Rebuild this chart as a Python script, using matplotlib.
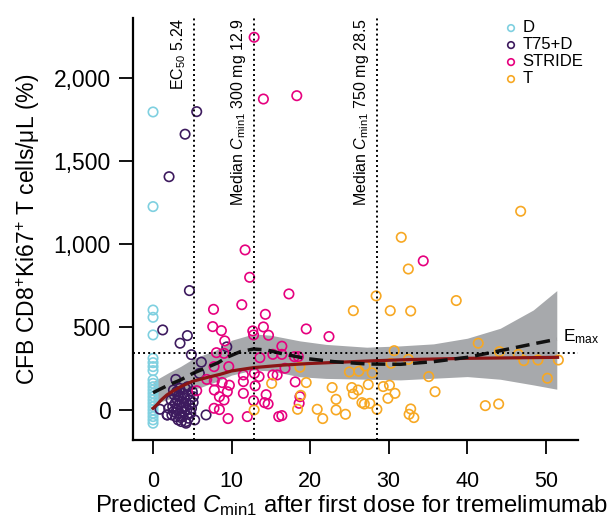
import matplotlib
matplotlib.use("Agg")
import matplotlib.pyplot as plt
import matplotlib.transforms as mtransforms

plt.rcParams['font.family'] = ['Liberation Sans', 'DejaVu Sans']
plt.rcParams['mathtext.fontset'] = 'custom'
plt.rcParams['mathtext.rm'] = 'Liberation Sans'
plt.rcParams['mathtext.it'] = 'Liberation Sans:italic'

# --- data ---
d_y = [1795, 1225, 602, 558, 452, 311, 285, 261, 237, 181, 160, 140, 120, 100,
       80, 60, 40, 20, 0, -20, -40, -60, -80]
d_x = [0] * len(d_y)

t75d_x = [5.56, 4.08, 2.04, 4.63, 1.23, 4.37, 3.44, 4.88, 9.39, 6.15, 5.9, 2.9,
          0.89, 1.82, 6.75, 5.14, 4.2,
          2.3, 2.5, 2.6, 2.7, 2.8, 2.9, 3.0, 3.0, 3.1, 3.2, 3.3, 3.4, 3.4, 3.5,
          3.6, 3.6, 3.7, 3.8, 3.8, 3.9, 4.0, 4.0, 4.1, 4.2, 4.2, 4.3, 4.4, 4.5,
          4.6, 4.7, 4.8, 4.9, 5.0, 5.1, 2.4, 2.0, 3.5, 4.4, 3.2, 2.6, 5.3, 1.8]
t75d_y = [1797, 1661, 1405, 719, 482, 448, 402, 333, 380, 288, 220, 184,
          4, -30, -30, 80, -70,
          60, 20, -10, 90, 40, -40, 110, 0, 60, -60, 30, 130, -20, 80,
          10, -70, 50, 100, -40, 20, 70, -10, 130, 40, -80, 0, 90, -50,
          30, 60, -20, 10, 110, 45, -30, 10, -45, 140, 85, 120, -60, -30]

stride_x = [12.87, 14.05, 18.3, 11.72, 34.4, 12.3, 17.3, 7.7, 11.3, 14.3, 7.6,
            8.7, 12.7, 14.05, 14.7, 19.5, 9.13, 12.8, 8.07, 9.04, 7.77, 9.64,
            13.6, 15.25, 16.4, 16.4, 18.0, 18.5, 16.8, 6.84, 8.8, 9.72, 11.5,
            11.5, 12.9, 13.5, 13.0, 15.25, 15.8, 18.1, 9.46, 11.5, 14.4, 8.45,
            9.04, 12.8, 14.2, 14.65, 18.6, 7.77, 8.45, 9.55, 12.0, 16.0, 16.4,
            22.4, 5.56, 7.8, 7.8, 18.7]
stride_y = [2245, 1873, 1893, 964, 898, 799, 699, 606, 634, 576, 502,
            478, 476, 500, 450, 488, 416, 452, 345, 341, 261, 261,
            315, 335, 384, 335, 321, 321, 251, 184, 165, 149, 211,
            171, 221, 201, 145, 211, 211, 169, 110, 100, 92, 80,
            60, 56, 44, 36, 40, 10, 2, -52, -40, -40, -34,
            442, 116, 175, 120, 80]

t_x = [46.8, 31.6, 32.5, 38.6, 32.8, 41.4, 44.1, 46.5, 32.5, 47.2, 49.0, 51.6,
       35.1, 50.2, 35.9, 32.8, 32.6, 33.2, 42.3, 44.0, 28.4, 25.5, 30.2, 30.7,
       30.3, 27.0, 25.0, 26.2, 27.9, 18.7, 19.5, 15.1, 18.8, 12.87, 18.4, 22.8,
       25.3, 27.4, 29.3, 30.1, 30.8, 23.3, 25.5, 26.1, 29.9, 26.6, 26.9, 27.6,
       28.5, 20.9, 23.3, 24.5, 21.6]
t_y = [1197, 1040, 849, 659, 596, 402, 351, 335, 305, 297, 301, 301,
       201, 191, 110, 6, -26, -46, 26, 36, 687, 598, 598, 357,
       281, 265, 229, 233, 223, 257, 165, 160, 88, 0, 4, 135,
       135, 153, 141, 149, 100, 64, 96, 120, 70, 44, 36, 40,
       4, 4, 0, -26, -52]

# Emax model curve (solid red), read at points
emax_x = [0, 0.5, 1, 1.75, 2.5, 3.5, 5, 7, 8.5, 10, 12.8, 16.5, 20, 24, 28, 33,
          40, 46, 51.5]
emax_y = [10, 32, 58, 90, 113, 140, 172, 197, 214, 235, 255, 270, 280, 288,
          296, 304, 311, 314, 317]

# smoother (dashed) and its band
sm_x = [0, 1.75, 3.5, 5.1, 6.8, 8.3, 9.4, 11.1, 12.8, 14.5, 16.6, 19.6, 23,
        27.2, 31.5, 35.7, 40, 44.2, 48.4, 51.4]
sm_y = [104, 145, 181, 221, 255, 285, 317, 351, 367, 361, 337, 309, 291, 277,
        275, 291, 317, 357, 398, 426]
band_x = [0, 2, 3.5, 5, 6, 8, 10, 12.8, 15, 18.7, 22, 27.2, 31.5, 35.7, 40,
          44.2, 48.4, 51.4]
band_hi = [171, 225, 262, 305, 325, 360, 420, 458, 450, 416, 395, 378, 386,
           398, 432, 492, 602, 719]
band_lo = [35, 65, 90, 125, 135, 170, 210, 241, 235, 200, 190, 185, 181, 191,
           201, 185, 151, 125]

emax_val = 345
ec50 = 5.24
med300 = 12.9
med750 = 28.5

groups = [("D", d_x, d_y, "#7fd0e0"),
          ("T75+D", t75d_x, t75d_y, "#3d1a5e"),
          ("STRIDE", stride_x, stride_y, "#e6007e"),
          ("T", t_x, t_y, "#f7a823")]

fig = plt.figure(figsize=(6.12, 5.21), dpi=100)
ax = fig.add_axes([133 / 612, 1 - 440 / 521, 445 / 612, 422 / 521])

ax.fill_between(band_x, band_lo, band_hi, color="#a7a9ac", lw=0, zorder=1)

handles = []
for name, xs, ys, col in groups:
    h = ax.scatter(xs, ys, s=46, facecolors="none", edgecolors=col,
                   linewidths=1.2, zorder=2, label=name)
    handles.append(h)

ax.plot(sm_x, sm_y, color="#111111", lw=2.5, ls=(0, (4, 2)), zorder=4)
ax.plot(emax_x, emax_y, color="#8b1515", lw=2.3, zorder=3)

dot = (0, (1, 1.6))
for xv in (ec50, med300, med750):
    ax.axvline(xv, color="black", lw=1.4, ls=dot, zorder=5)
ax.axhline(emax_val, color="black", lw=1.4, ls=dot, zorder=5)

trans = mtransforms.blended_transform_factory(ax.transData, ax.transAxes)
ax.text(ec50 - 0.8, 1.0, r"EC$_{\mathregular{50}}$ 5.24", rotation=90,
        ha="right", va="top", transform=trans, fontsize=11.5)
ax.text(med300 - 0.8, 1.0, r"Median $\mathit{C}_{\mathregular{min1}}$ 300 mg 12.9",
        rotation=90, ha="right", va="top", transform=trans, fontsize=11.5)
ax.text(med750 - 0.8, 1.0, r"Median $\mathit{C}_{\mathregular{min1}}$ 750 mg 28.5",
        rotation=90, ha="right", va="top", transform=trans, fontsize=11.5)
ax.text(52.2, 440, r"E$_{\mathregular{max}}$", ha="left", va="center",
        fontsize=12.5)

ax.set_xlim(-2.55, 54.1)
ax.set_ylim(-181, 2361)
ax.set_xticks([0, 10, 20, 30, 40, 50])
ax.set_yticks([0, 500, 1000, 1500, 2000])
ax.set_yticklabels(["0", "500", "1,000", "1,500", "2,000"])
ax.tick_params(length=10, width=1.3, direction="out")
ax.tick_params(axis="x", labelsize=15.5, pad=12)
ax.tick_params(axis="y", labelsize=16.5, pad=6)
for side in ("top", "right"):
    ax.spines[side].set_visible(False)
for side in ("left", "bottom"):
    ax.spines[side].set_linewidth(1.6)

ax.set_xlabel(r"Predicted $\mathit{C}_{\mathregular{min1}}$ after first dose for tremelimumab",
              fontsize=17.2, labelpad=1)
ax.xaxis.label.set_x(0.49)
ax.set_ylabel(r"CFB CD8$^{\mathregular{+}}$Ki67$^{\mathregular{+}}$ T cells/μL (%)",
              fontsize=16.5, labelpad=8)

ax.legend(handles=handles, loc="upper left", bbox_to_anchor=(0.812, 1.01),
          frameon=False, fontsize=12, handletextpad=0.1, labelspacing=0.12,
          borderaxespad=0, markerscale=0.7, handlelength=1.2)

fig.savefig("out.png", dpi=100)
